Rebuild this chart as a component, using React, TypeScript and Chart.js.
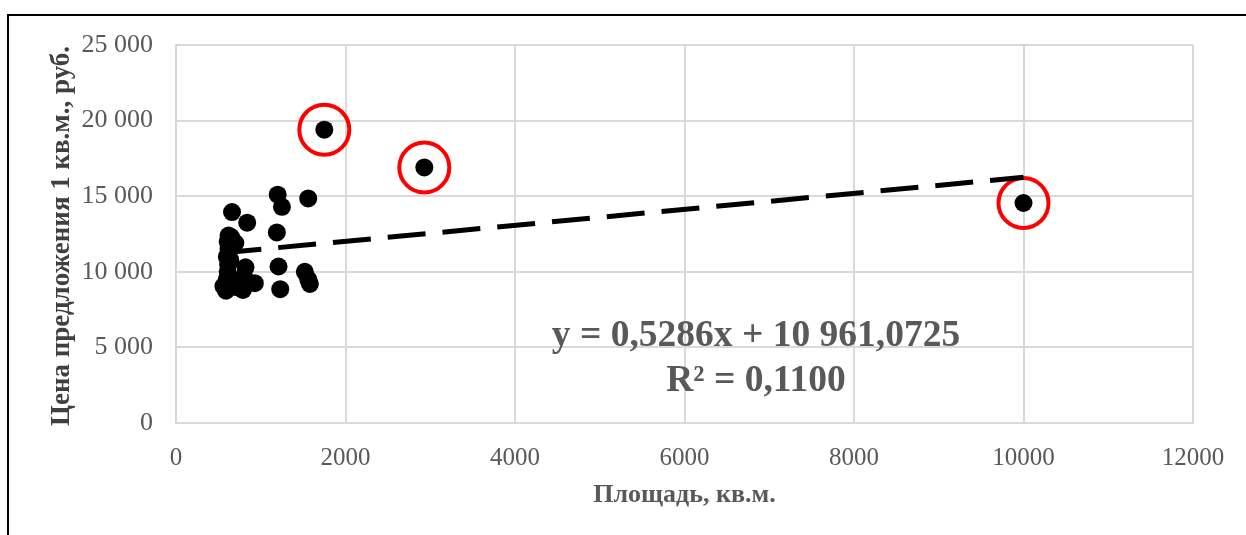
import React, { useEffect, useRef } from "react";
import { Chart, registerables } from "chart.js";

Chart.register(...registerables);

// Scatter data: area (sq.m.) vs offer price per sq.m. (rub.)
const areaValues = [
  560, 590, 600, 610, 615, 600, 620, 610, 620, 650, 700, 661, 840, 820, 800, 860, 930, 790, 700,
  1200, 1250, 1190, 1210, 1230, 1560, 1520, 1560, 1580, 680, 640, 1750, 2930, 10000,
];
const priceValues = [
  9050, 8750, 9500, 10000, 10500, 11000, 11500, 12000, 12400, 12300, 11900, 13950, 13250, 10300, 9700,
  9300, 9250, 8800, 9000, 15100, 14300, 12600, 10350, 8850, 14850, 10000, 9500, 9200, 9300, 10800,
  19400, 16900, 14550,
];

// Highlighted outliers
const outlierX = [1750, 2930, 10000];
const outlierY = [19400, 16900, 14550];

// Linear trend line end points
const trendX = [560, 10000];
const trendY = [11257, 16247];

// Axis ticks
const xTicks = [0, 2000, 4000, 6000, 8000, 10000, 12000];
const yTicks = [0, 5000, 10000, 15000, 20000, 25000];

const yTitle = "Цена предложения 1 кв.м., руб.";
const xTitle = "Площадь, кв.м.";
const equationLines = ["y = 0,5286x + 10 961,0725", "R² = 0,1100"];

const SERIF = "'Liberation Serif', 'DejaVu Serif', serif";

function fmtThousands(v: number): string {
  const s = String(Math.round(v));
  return s.replace(/\B(?=(\d{3})+(?!\d))/g, " ");
}

const labelsPlugin = {
  id: "customLabels",
  afterDraw(chart: any) {
    const ctx = chart.ctx;
    const area = chart.chartArea;
    ctx.save();
    // Y title
    ctx.fillStyle = "#404040";
    ctx.font = `bold 27px ${SERIF}`;
    ctx.textAlign = "center";
    ctx.textBaseline = "middle";
    ctx.translate(62, (area.top + area.bottom) / 2 + 2);
    ctx.rotate(-Math.PI / 2);
    ctx.fillText(yTitle, 0, 0);
    ctx.restore();

    ctx.save();
    ctx.fillStyle = "#595959";
    ctx.font = `bold 26px ${SERIF}`;
    ctx.textAlign = "center";
    ctx.textBaseline = "middle";
    ctx.fillText(xTitle, (area.left + area.right) / 2, 495);

    ctx.font = `bold 37.5px ${SERIF}`;
    ctx.textBaseline = "alphabetic";
    ctx.fillText(equationLines[0], 756, 346);
    ctx.fillText(equationLines[1], 756, 391);
    ctx.restore();
  },
};

export default function App() {
  const ref = useRef<HTMLCanvasElement | null>(null);

  useEffect(() => {
    if (!ref.current) return;
    const chart = new Chart(ref.current, {
      type: "scatter",
      data: {
        datasets: [
          {
            label: "trend",
            type: "line",
            data: trendX.map((x, i) => ({ x, y: trendY[i] })),
            borderColor: "#000000",
            borderWidth: 5,
            borderDash: [38, 17],
            pointRadius: 0,
            fill: false,
            order: 0,
          } as any,
          {
            label: "outliers",
            data: outlierX.map((x, i) => ({ x, y: outlierY[i] })),
            pointRadius: 25,
            pointBorderWidth: 4,
            pointBorderColor: "#ff0000",
            pointBackgroundColor: "rgba(0,0,0,0)",
            order: 1,
          },
          {
            label: "points",
            data: areaValues.map((x, i) => ({ x, y: priceValues[i] })),
            pointRadius: 9,
            pointBorderWidth: 0,
            pointBackgroundColor: "#000000",
            pointBorderColor: "#000000",
            order: 2,
          },
        ],
      },
      options: {
        animation: false,
        responsive: false,
        layout: { padding: { top: 45, right: 53, left: 0, bottom: 0 } },
        plugins: { legend: { display: false }, tooltip: { enabled: false } },
        scales: {
          x: {
            type: "linear",
            min: 0,
            max: 12000,
            afterFit: (s: any) => {
              s.height = 112;
            },
            afterBuildTicks: (s: any) => {
              s.ticks = xTicks.map((v) => ({ value: v }));
            },
            grid: { color: "#d9d9d9", lineWidth: 2, drawTicks: false },
            border: { color: "#d9d9d9", width: 2 },
            ticks: {
              color: "#595959",
              font: { family: SERIF, size: 25 },
              padding: 20,
              maxRotation: 0,
              callback: (v: any) => String(v),
            },
          },
          y: {
            type: "linear",
            min: 0,
            max: 25000,
            afterFit: (s: any) => {
              s.width = 176;
            },
            afterBuildTicks: (s: any) => {
              s.ticks = yTicks.map((v) => ({ value: v }));
            },
            grid: { color: "#d9d9d9", lineWidth: 2, drawTicks: false },
            border: { color: "#d9d9d9", width: 2 },
            ticks: {
              color: "#595959",
              font: { family: SERIF, size: 26 },
              padding: 23,
              callback: (v: any) => fmtThousands(Number(v)),
            },
          },
        },
      },
      plugins: [labelsPlugin],
    });
    return () => chart.destroy();
  }, []);

  return (
    <div style={{ position: "fixed", left: 0, top: 0, width: 1246, height: 535, background: "#ffffff" }}>
      <canvas ref={ref} width={1246} height={535} style={{ position: "absolute", left: 0, top: 0 }} />
      <div
        style={{
          position: "absolute",
          left: 7,
          top: 14,
          width: 1246,
          height: 535,
          borderTop: "2px solid #000",
          borderLeft: "2px solid #000",
          pointerEvents: "none",
        }}
      />
    </div>
  );
}
